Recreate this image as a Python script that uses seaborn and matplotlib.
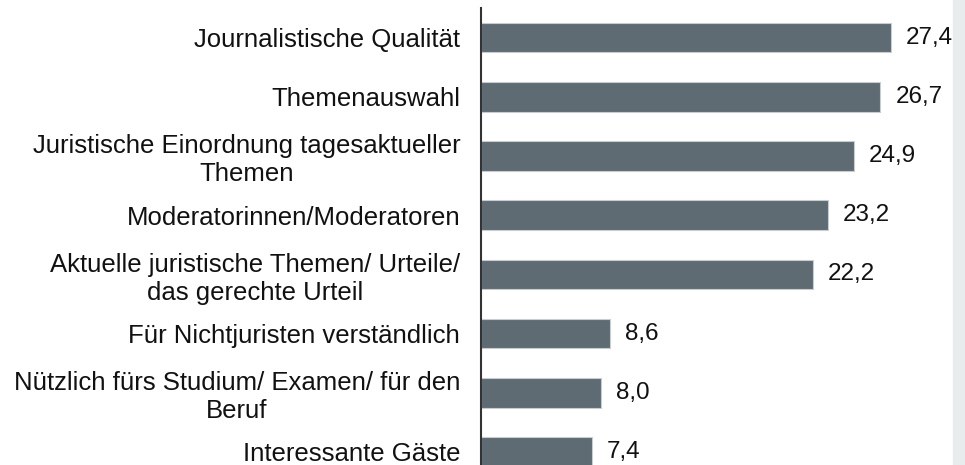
import matplotlib
matplotlib.use("Agg")
import matplotlib.pyplot as plt
import seaborn as sns
import pandas as pd

categories = [
    "Journalistische Qualität",
    "Themenauswahl",
    "Juristische Einordnung tagesaktueller\nThemen",
    "Moderatorinnen/Moderatoren",
    "Aktuelle juristische Themen/ Urteile/\ndas gerechte Urteil",
    "Für Nichtjuristen verständlich",
    "Nützlich fürs Studium/ Examen/ für den\nBeruf",
    "Interessante Gäste",
]
values = [27.4, 26.7, 24.9, 23.2, 22.2, 8.6, 8.0, 7.4]

data = pd.DataFrame({"kategorie": categories, "anteil": values})

sns.set_style("white")
plt.rcParams["font.family"] = ["Liberation Sans", "DejaVu Sans"]

fig = plt.figure(figsize=(9.65, 4.65), dpi=100)
ax = fig.add_axes([481 / 965, 0, 30 * 14.96 / 965, 1 - 8 / 465])

sns.barplot(x="anteil", y="kategorie", data=data, color="#5f6b73",
            saturation=1, width=0.5, edgecolor="#c9cdd0", linewidth=0.8, ax=ax)

for i, v in enumerate(values):
    ax.text(v + 1.0, i, f"{v:.1f}".replace(".", ","), va="center", ha="left",
            fontsize=17.5, color="#111111")

ax.set_xlim(0, 30)
ax.set_ylim(7.22, -0.5)
ax.set_xlabel("")
ax.set_ylabel("")
ax.set_xticks([])
for s in ["top", "right", "bottom"]:
    ax.spines[s].set_visible(False)
ax.spines["left"].set_color("#333333")
ax.spines["left"].set_linewidth(1.5)
ax.tick_params(axis="y", length=0, pad=15, labelsize=18.5, labelcolor="#111111")
for lab in ax.get_yticklabels():
    lab.set_multialignment("center")

# heller Streifen am rechten Rand
fig.patches.append(plt.Rectangle((953 / 965, 0), 12 / 965, 1, transform=fig.transFigure,
                                 color="#e8eced", zorder=-1))

fig.savefig("out.png", dpi=100)
